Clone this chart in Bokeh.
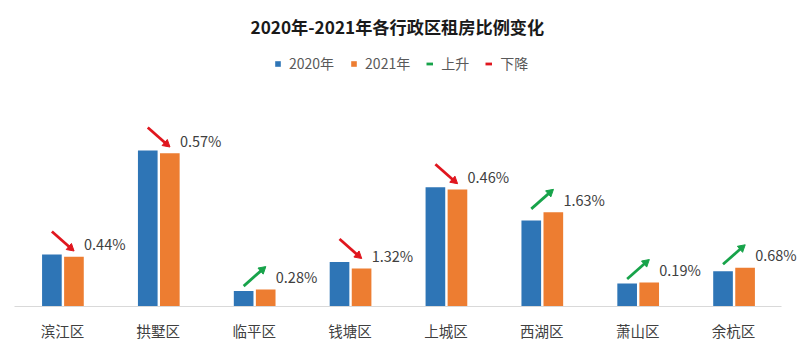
from bokeh.plotting import figure
from bokeh.models import (ColumnDataSource, Range1d, Legend, LegendItem, Title, FixedTicker)
from bokeh.transform import dodge
from bokeh.core.properties import value
from bokeh.embed import file_html
from bokeh.resources import INLINE

# ---- data ----
districts = ["滨江区", "拱墅区", "临平区", "钱塘区", "上城区", "西湖区", "萧山区", "余杭区"]
share_2020 = [10.40, 31.20, 3.10, 8.90, 23.86, 17.20, 4.60, 7.06]
share_2021 = [9.96, 30.63, 3.38, 7.58, 23.40, 18.83, 4.79, 7.74]
change_labels = ["0.44%", "0.57%", "0.28%", "1.32%", "0.46%", "1.63%", "0.19%", "0.68%"]

FONT = "Noto Sans CJK SC"
BLUE = "#2E75B6"
ORANGE = "#ED7D31"
GREEN = "#17A34A"
RED = "#E0161E"

# arrow geometry in data units (y scale is ~5 px per unit)
ARROW_DY = 3.3
ARROW_DOWN_GAP = 4.6
ARROW_UP_GAP = 4.0

pos = list(range(len(districts)))
up_idx = [i for i in pos if share_2021[i] > share_2020[i]]
down_idx = [i for i in pos if share_2021[i] <= share_2020[i]]

src = ColumnDataSource(dict(x=pos, cat=districts, y20=share_2020, y21=share_2021, lab=change_labels))

up_src = ColumnDataSource(dict(
    x=up_idx,
    ys=[share_2021[i] + ARROW_UP_GAP - ARROW_DY for i in up_idx],
    ye=[share_2021[i] + ARROW_UP_GAP for i in up_idx],
))
down_src = ColumnDataSource(dict(
    x=down_idx,
    ys=[share_2020[i] + ARROW_DOWN_GAP for i in down_idx],
    ye=[share_2020[i] + ARROW_DOWN_GAP - ARROW_DY for i in down_idx],
))

p = figure(width=800, height=352, output_backend="svg", toolbar_location=None,
           x_range=Range1d(-0.5, 7.698),
           y_range=Range1d(0, 52.8),
           min_border_left=14, min_border_right=0, min_border_top=42, min_border_bottom=46)
p.title = Title(text="2020年-2021年各行政区租房比例变化", align="left",
                text_font=FONT, text_font_size="17.2px", text_font_style="bold",
                text_color="#1a1a1a", standoff=8, offset=236)

r20 = p.vbar(x=dodge("x", -0.11), top="y20", width=0.205, source=src,
             fill_color=BLUE, line_color=None)
r21 = p.vbar(x=dodge("x", 0.12), top="y21", width=0.205, source=src,
             fill_color=ORANGE, line_color=None)

# change arrows
r_up = p.segment(x0=dodge("x", -0.11), y0="ys", x1=dodge("x", 0.085), y1="ye",
                 source=up_src, line_color=GREEN, line_width=2.8)
p.scatter(x=dodge("x", 0.085), y="ye", source=up_src, marker="triangle",
          size=8, angle=-0.86, fill_color=GREEN, line_color=GREEN)
r_down = p.segment(x0=dodge("x", -0.11), y0="ys", x1=dodge("x", 0.085), y1="ye",
                   source=down_src, line_color=RED, line_width=2.8)
p.scatter(x=dodge("x", 0.085), y="ye", source=down_src, marker="triangle",
          size=8, angle=-2.28, fill_color=RED, line_color=RED)

# change labels
p.text(x=dodge("x", 0.225), y="y21", text="lab", source=src,
       y_offset=-13, text_align="left", text_baseline="middle",
       text_font=value(FONT), text_font_size="14.5px", text_color="#404040")

legend = Legend(items=[LegendItem(label="2020年", renderers=[r20]),
                       LegendItem(label="2021年", renderers=[r21]),
                       LegendItem(label="上升", renderers=[r_up]),
                       LegendItem(label="下降", renderers=[r_down])],
                orientation="horizontal", location=(260, 233),
                glyph_width=7, glyph_height=7, label_standoff=8, spacing=16,
                label_text_font=FONT, label_text_font_size="14px", label_text_color="#595959",
                label_height=18, border_line_color=None, background_fill_alpha=0,
                padding=0, margin=0)
p.add_layout(legend)

p.yaxis.visible = False
p.xgrid.grid_line_color = None
p.ygrid.grid_line_color = None
p.outline_line_color = None
p.xaxis.bounds = (-0.5, 7.5)
p.xaxis.ticker = FixedTicker(ticks=pos)
p.xaxis.major_label_overrides = {i: d for i, d in zip(pos, districts)}
p.xaxis.axis_line_color = "#d9d9d9"
p.xaxis.major_tick_line_color = None
p.xaxis.minor_tick_line_color = None
p.xaxis.major_label_text_font = FONT
p.xaxis.major_label_text_font_size = "14.5px"
p.xaxis.major_label_text_color = "#404040"
p.xaxis.major_label_standoff = 7

open("out.html", "w").write(file_html(p, INLINE))
